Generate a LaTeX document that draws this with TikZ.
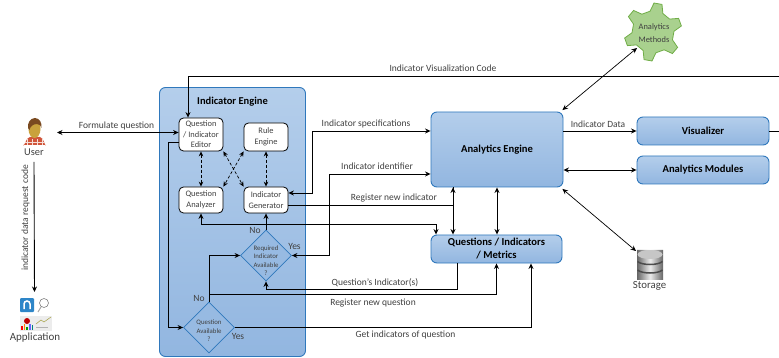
\documentclass[tikz,border=0pt]{standalone}
\usepackage{fontspec}
\setmainfont{Carlito}
\usetikzlibrary{
    shapes.geometric,% for the diamonds and the cylinder
    arrows.meta%
}
\definecolor{panelTop}{HTML}{B4CEEB}
\definecolor{panelBot}{HTML}{92B6E0}
\definecolor{panelEdge}{HTML}{2F78BC}
\definecolor{txtGray}{HTML}{404040}
\definecolor{gearFill}{HTML}{A9D18E}
\definecolor{gearEdge}{HTML}{70AD47}
\definecolor{skin}{HTML}{C9A23C}
\definecolor{hair}{HTML}{7A4A20}
\definecolor{shirt}{HTML}{D0553A}
\definecolor{appBlue}{HTML}{2E86C8}
\tikzset{
    panel/.style={rounded corners=6pt,draw=panelEdge,line width=0.9pt,top color=panelTop,bottom color=panelBot,
        font=\fontsize{10.6}{13}\selectfont\bfseries,align=center,text=black,inner sep=1pt},
    inbox/.style={rounded corners=4.5pt,draw=black,line width=0.8pt,fill=white,minimum width=44pt,
        font=\fontsize{8.4}{10.6}\selectfont,align=center,text=txtGray,inner sep=0pt},
    dmd/.style={diamond,aspect=1,draw=panelEdge,line width=0.8pt,fill=panelBot!85!panelTop,inner sep=0pt,minimum size=51pt},
    dmdtext/.style={font=\fontsize{6.8}{8.4}\selectfont,align=center,text=txtGray,inner sep=0pt},
    lbl/.style={font=\fontsize{9.5}{11}\selectfont,text=txtGray,inner sep=0pt},
    conn/.style={line width=0.9pt,>={Stealth[length=5.5pt,width=5pt]}},
    thin conn/.style={line width=0.7pt,>={Stealth[length=5.5pt,width=5pt]}},
    dash conn/.style={line width=0.7pt,>={Stealth[length=5pt,width=4.5pt]},densely dashed}
}
\begin{document}
\begin{tikzpicture}[x=1pt,y=-1pt]
    \useasboundingbox (0,0) rectangle (779,358);

    %%% Indicator Engine panel and its boxes
    \node[panel,minimum width=146pt,minimum height=269pt] (engine) at (232.5,222) {};
    \node[font=\fontsize{10.5}{12}\selectfont\bfseries,inner sep=0pt] (enginetitle) at (232.5,102) {Indicator Engine};
    \node[inbox,minimum height=33pt] (editor) at (201,134.5) {Question\\/ Indicator\\Editor};
    \node[inbox,minimum height=28pt] (rule) at (266,137) {Rule\\Engine};
    \node[inbox,minimum height=26pt] (qana) at (201,200) {Question\\Analyzer};
    \node[inbox,minimum height=26pt] (igen) at (266,200) {Indicator\\Generator};
    \node[dmd] (dreq) at (266,255.5) {};
    \node[dmdtext] (dreqtext) at (266,260.5) {Required\\Indicator\\Available\\?};
    \node[dmd] (dq) at (209,327.5) {};
    \node[dmdtext] (dqtext) at (209,331) {Question\\Available\\?};

    %%% right hand boxes
    \node[panel,minimum width=132pt,minimum height=75pt] (aeng) at (497,149.5) {Analytics Engine};
    \node[panel,minimum width=131pt,minimum height=28pt] (qim) at (496.5,249) {Questions / Indicators\\/ Metrics};
    \node[panel,minimum width=132pt,minimum height=28pt] (vis) at (703,131) {Visualizer};
    \node[panel,minimum width=132pt,minimum height=28pt] (mods) at (703,170) {Analytics Modules};

    %%% gear of the methods
    \draw[draw=gearEdge,line width=0.8pt,fill=gearFill,shift={(653,32)}] (-98:21)
    \foreach \a in {-80,-20,40,100,160,220} {
        -- (\a-18:21) -- (\a-8:29) -- (\a+8:29) -- (\a+18:21)
    } -- cycle;
    \node[dmdtext,font=\fontsize{8.4}{12.6}\selectfont] (gear) at (654,33) {Analytics\\Methods};
    \coordinate (gearfoot) at (637,48);

    %%% storage
    \node[cylinder,shape border rotate=90,aspect=0.35,minimum width=26pt,minimum height=30pt,inner sep=0pt,
        left color=black!60,right color=black!60,middle color=gray!15,draw=none] (storage) at (650,265) {};
    \fill[gray!45] (650,254.5) ellipse (12.5 and 4.5);
    \draw[black!70,line width=1.5pt] (637.5,261.5) .. controls (642,265.5) and (658,265.5) .. (662.5,261.5);
    \draw[black!70,line width=1.5pt] (637.5,270) .. controls (642,274) and (658,274) .. (662.5,270);
    \node[lbl,font=\fontsize{10.8}{12}\selectfont] (storagelbl) at (649.5,286) {Storage};
    \coordinate (storagetop) at (636,251);

    %%% user
    \fill[shirt] (23,145) to [out=-80,in=180] (30,137) -- (40,137) to [out=0,in=-100] (46,145) -- cycle;
    \foreach \x in {27,32,37,42} {
        \draw[white!80!shirt,line width=0.6pt] (\x,139) -- (\x,145);
    }
    \draw[white!80!shirt,line width=0.6pt] (25,142) -- (44,142);
    \fill[skin] (34.5,129) ellipse (6 and 9);
    \fill[hair] (28,128) to [out=100,in=180] (35,118) to [out=0,in=80] (41.5,128)
    to [out=100,in=0] (37,124) to [out=180,in=80] (29.5,130) -- cycle;
    \node[lbl,font=\fontsize{10.4}{12}\selectfont] (user) at (34,152) {User};
    \coordinate (userside) at (57,132.5);
    \coordinate (userfoot) at (34,162);

    %%% application
    \fill[appBlue,rounded corners=1pt] (20,298) rectangle (34,312);
    \draw[white,line width=1.5pt] (24,309) -- (24,304) arc[start angle=180,end angle=0,x radius=3,y radius=-3] -- (30,309);
    \draw[gray,line width=0.6pt] (44,303) circle (4.5);
    \draw[gray!70,line width=1pt] (41,307) -- (38,312);
    \fill[gray!15] (20,316) rectangle (52,331);
    \fill[red!75!black] (27,321) circle (3);
    \foreach \x/\h/\c in {21/4/red,23.5/6/orange,26/3/green!60!black,29/6/blue!60,31.5/5/teal} {
        \fill[\c] (\x,330) rectangle ++(1.5,-\h);
    }
    \draw[yellow!60!black,line width=0.5pt] (36,324) -- (41,320) -- (44,322) -- (51,317);
    \draw[gray!60,line width=0.5pt] (36,327) -- (48,327);
    \node[lbl,font=\fontsize{11}{12}\selectfont] (app) at (35,337.5) {Application};
    \coordinate (apptop) at (34.5,292);

    %%% picture edge
    \coordinate (edgeA) at (779,76.5);
    \coordinate (edgeB) at (779,131);

    %%% user side
    \draw[conn,<->] (userside) -- ([yshift=2pt]editor.west);
    \draw[conn,->] (userfoot) -- (apptop);
    \node[lbl,rotate=90] (lblcode) at (25.5,218) {indicator data request code};
    \node[lbl] (lblform) at (116.5,126) {Formulate question};

    %%% inside the engine
    \draw[dash conn,<->] (editor.south) -- (qana.north);
    \draw[dash conn,<->] (rule.south) -- (igen.north);
    \draw[dash conn,<->] (editor.south east) -- (igen.north west);
    \draw[dash conn,<->] (rule.south west) -- (qana.north east);
    \draw[conn,->] (dreq.north) -- (igen.south);
    \draw[conn,->] ([yshift=-7.5pt]editor.west) -- ++(-10,0) |- (dq.west);
    \draw[conn,->] (dq.north) |- (dreq.west);

    %%% visualization code
    \draw[conn,->] (edgeA) -| ([xshift=-13pt]editor.north);
    \node[lbl] (lblvis) at (443,68) {Indicator Visualization Code};

    %%% specifications and identifier
    \draw[conn,<->] ([yshift=7pt]igen.east) -- ++(24,0) |- ([yshift=18.5pt]aeng.west);
    \node[lbl] (lblspec) at (366,124) {Indicator specifications};
    \draw[conn,<->] (dreq.east) -- ++(38,0) |- ([yshift=-24.5pt]aeng.west);
    \node[lbl] (lblident) at (377,166) {Indicator identifier};

    %%% registering and questions
    \coordinate (regjoin) at ([xshift=-44pt]aeng.south);
    \draw[conn,<->] (regjoin) -- (regjoin |- qim.north);
    \draw[conn] ([yshift=-5pt]igen.east) -| (regjoin);
    \node[lbl] (lblreg) at (394,198) {Register new indicator};
    \draw[conn,<->] (aeng.south) -- (aeng.south |- qim.north);
    \draw[conn,<->] (qana.south) -- ++(0,11) -| ([xshift=-60.5pt]qim.north);
    \draw[conn,->] ([xshift=-39.5pt]qim.south) -- ++(0,26) -| (dreq.south);
    \node[lbl] (lblqind) at (375,283) {Question's Indicator(s)};
    \draw[conn,->] ([yshift=7.5pt]dq.north) -| (qim.south);
    \node[lbl] (lblregq) at (373,303) {Register new question};
    \draw[conn,->] (dq.east) -| ([xshift=34.5pt]qim.south);
    \node[lbl] (lblget) at (405.5,335) {Get indicators of question};

    %%% yes and no
    \node[lbl] (nofirst) at (255,230) {No};
    \node[lbl] (yesfirst) at (294.5,246) {Yes};
    \node[lbl] (nosecond) at (199,298) {No};
    \node[lbl] (yessecond) at (238,336.5) {Yes};

    %%% analytics engine to the right
    \draw[thin conn,<->] ([xshift=-1pt,yshift=1.5pt]aeng.north east) -- (gearfoot);
    \draw[conn,->] ([yshift=18.5pt]aeng.east) -- (vis.west);
    \node[lbl] (lbldata) at (598,124) {Indicator Data};
    \draw[conn,<->] ([yshift=-20.5pt]aeng.east) -- (mods.west);
    \draw[thin conn,<->] ([xshift=-1pt,yshift=-1.5pt]aeng.south east) -- (storagetop);
    \draw[conn] (vis.east) -- (edgeB);
\end{tikzpicture}
\end{document}
